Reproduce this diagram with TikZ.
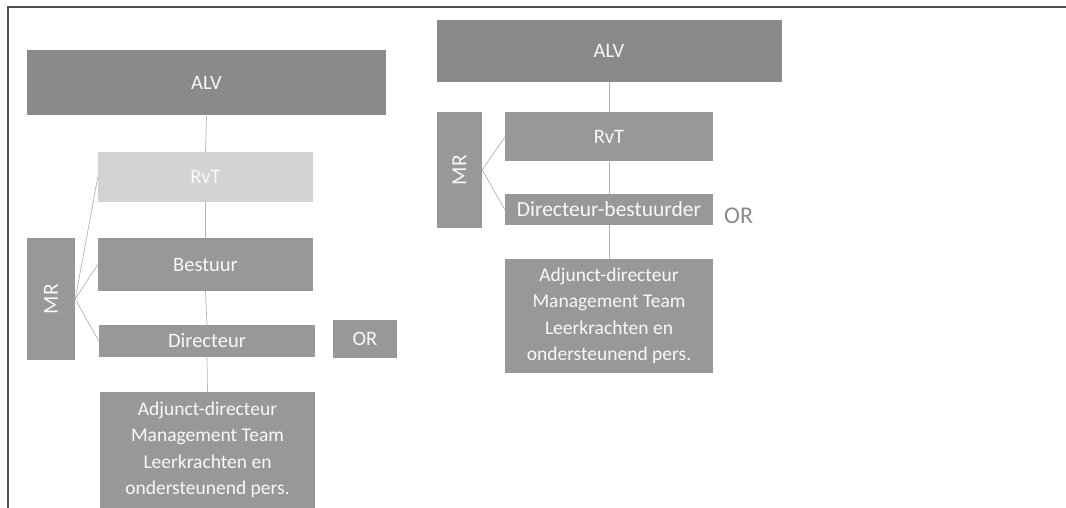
\documentclass[tikz,border=0pt]{standalone}
\usepackage{fontspec}
\setmainfont{Carlito}
\definecolor{alvgray}{HTML}{8A8A8A}
\definecolor{boxgray}{HTML}{989898}
\definecolor{lightbox}{HTML}{D3D3D3}
\definecolor{linegray}{HTML}{B4B4B4}
\definecolor{framecol}{HTML}{505050}
\definecolor{orgray}{HTML}{8A8A8A}
\definecolor{boxtext}{HTML}{F8F8F8}
\begin{document}
\begin{tikzpicture}[x=1pt,y=-1pt,
  orgbox/.style={fill=boxgray, draw=none, inner sep=0pt, text=boxtext,
    font=\fontsize{19.5}{26.5}\selectfont, align=center},
  bigtext/.style={font=\fontsize{20.5}{26.5}\selectfont},
  link/.style={draw=linegray, line width=0.7pt},
  frameline/.style={draw=framecol, line width=1.6pt}]
\useasboundingbox (0,0) rectangle (1066,508);
% frame
\coordinate (fbl) at (8,508);
\coordinate (ftl) at (8,7);
\coordinate (ftr) at (1066,7);
\draw[frameline] (fbl) -- (ftl) -- (ftr);

% ---------- left chart ----------
\node[orgbox, bigtext, fill=alvgray, minimum width=359, minimum height=65] (alvL) at (206.5,83) {ALV};
\node[orgbox, bigtext, fill=lightbox, minimum width=215, minimum height=50] (rvtL) at (205.5,177) {RvT};
\node[orgbox, bigtext, minimum width=215, minimum height=53] (bestL) at (205.5,264.5) {Bestuur};
\node[orgbox, bigtext, minimum width=216, minimum height=32] (dirL) at (207,341) {Directeur};
\node[orgbox, bigtext, minimum width=64, minimum height=38] (orL) at (365,339) {OR};
\node[orgbox, font=\fontsize{21.5}{26}\selectfont, minimum width=48, minimum height=122] (mrL) at (51,299) {\rotatebox{90}{MR}};
\node[orgbox, minimum width=215, minimum height=116] (adjL) at (207.5,450)
  {Adjunct-directeur\\Management Team\\Leerkrachten en\\ondersteunend pers.};

\draw[link] (alvL.south) -- (rvtL.north);
\draw[link] (rvtL.south) -- (bestL.north);
\draw[link] (bestL.south) -- (dirL.north);
\draw[link] (dirL.south) -- (adjL.north);
\draw[link] (mrL.east) -- (rvtL.west);
\draw[link] (mrL.east) -- (bestL.west);
\draw[link] (mrL.east) -- (dirL.west);

% ---------- right chart ----------
\node[orgbox, bigtext, fill=alvgray, minimum width=345, minimum height=62] (alvR) at (609,51) {ALV};
\node[orgbox, bigtext, minimum width=208, minimum height=49] (rvtR) at (609,137) {RvT};
\node[orgbox, font=\fontsize{21.5}{26}\selectfont, minimum width=208, minimum height=31] (dirR) at (609,209.5) {Directeur-bestuurder};
\node[orgbox, font=\fontsize{21.5}{26}\selectfont, minimum width=45, minimum height=116] (mrR) at (459.5,170) {\rotatebox{90}{MR}};
\node[orgbox, minimum width=208, minimum height=114] (adjR) at (609,316)
  {Adjunct-directeur\\Management Team\\Leerkrachten en\\ondersteunend pers.};
\node[anchor=base west, inner sep=0pt, text=orgray, font=\fontsize{24}{28}\selectfont] (orR) at (724,223) {OR};

\draw[link] (alvR.south) -- (rvtR.north);
\draw[link] (rvtR.south) -- (dirR.north);
\draw[link] (dirR.south) -- (adjR.north);
\draw[link] (mrR.east) -- (rvtR.west);
\draw[link] (mrR.east) -- (dirR.west);
\end{tikzpicture}
\end{document}
